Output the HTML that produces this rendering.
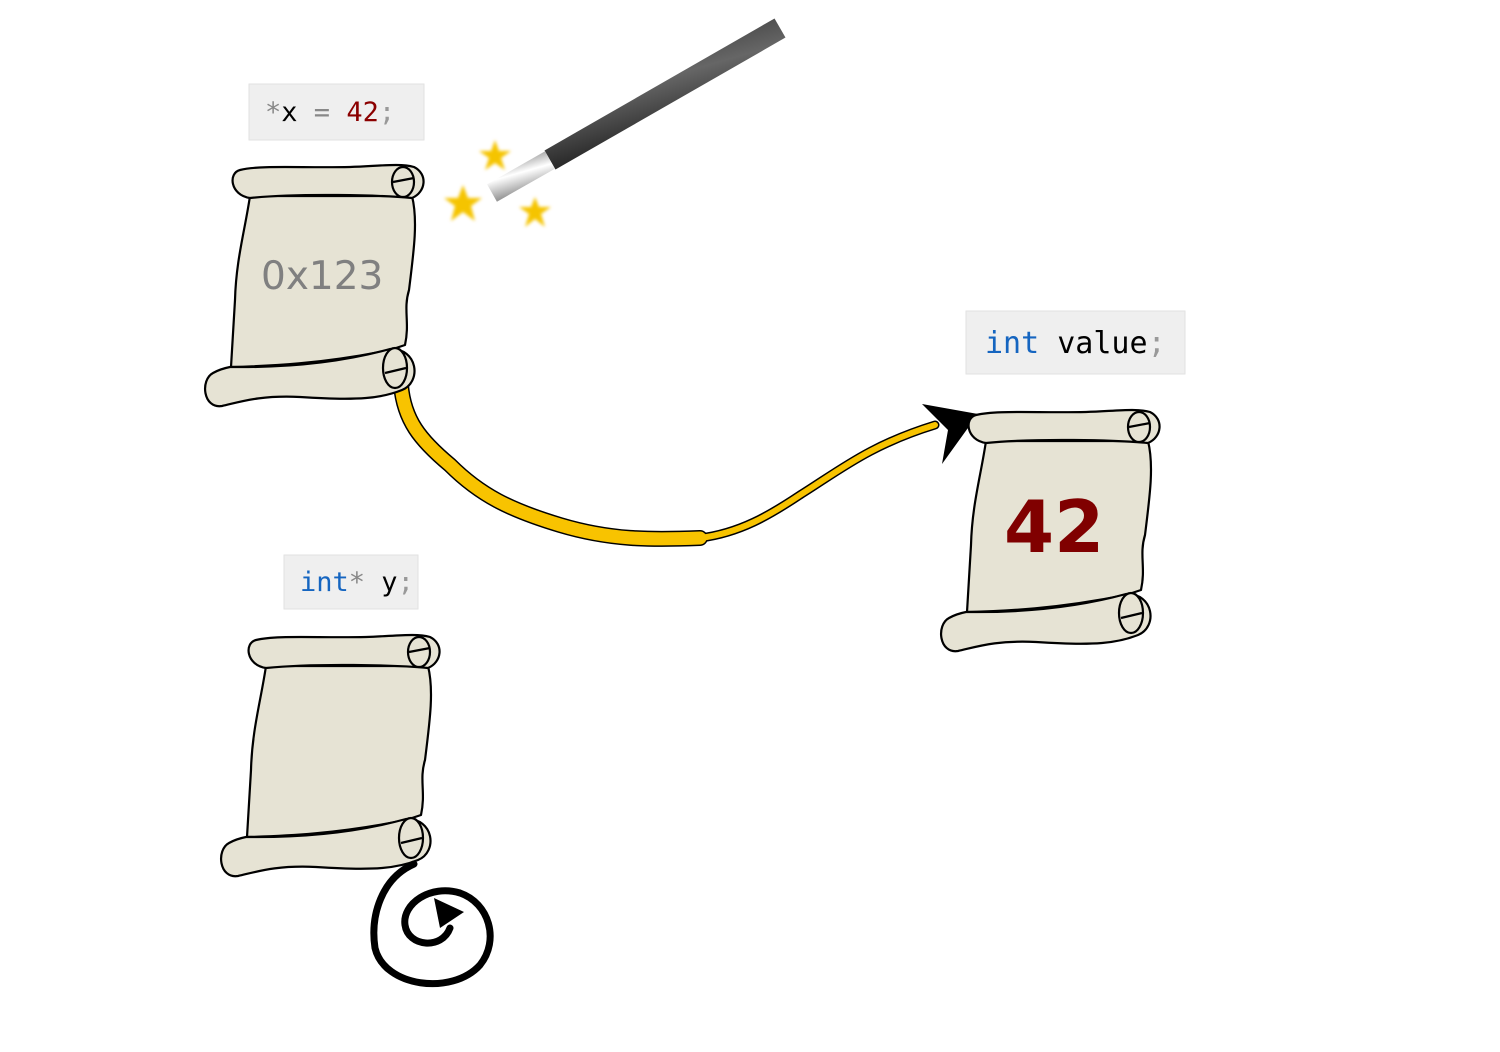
<!DOCTYPE html>
<html><head><meta charset="utf-8"><style>
html,body{margin:0;padding:0;background:#fff;width:1500px;height:1052px;overflow:hidden}
svg{display:block}
.code{font-family:"DejaVu Sans Mono","Liberation Mono",monospace;font-size:27px}
</style></head><body>
<svg width="1500" height="1052" viewBox="0 0 1500 1052">
<defs>
<linearGradient id="wandG" x1="0" y1="0" x2="0.5" y2="1"><stop offset="0" stop-color="#222"/><stop offset="0.5" stop-color="#666"/><stop offset="1" stop-color="#111"/></linearGradient>
<linearGradient id="tipG" x1="0" y1="0" x2="0.5" y2="1"><stop offset="0" stop-color="#888"/><stop offset="0.5" stop-color="#fff"/><stop offset="1" stop-color="#999"/></linearGradient>
<filter id="blur"><feGaussianBlur stdDeviation="1.5"/></filter>
<g id="scroll" fill="#e6e3d4" stroke="#000" stroke-width="2.2" stroke-linejoin="round">
<path d="M250,196 C245,230 236,260 235,300 L231,367 C270,366 320,364 390,350 L405,345 C410,322 403,310 409,290 C414,250 418,220 412,196 Z"/>
<path d="M240,170 C260,165 300,168 350,167 C380,166 400,163 414,167 C428,174 426,192 412,198 C380,195 300,193 250,198 C230,195 228,173 240,170 Z"/>
<ellipse cx="403" cy="182" rx="11" ry="15"/>
<path d="M393,182 L414,178" fill="none"/>
<path d="M230,367 C300,368 350,360 390,349 C418,348 422,382 402,390 C382,398 360,401 300,397 C260,395 240,402 222,406 C203,409 200,380 213,373 C220,369 230,367 230,367 Z"/>
<ellipse cx="395" cy="368" rx="12" ry="20"/>
<path d="M385,373 L406,368" fill="none"/>
</g>
</defs>

<g>
<rect x="249" y="84" width="175" height="56" fill="#efefef" stroke="#e2e2e2"/>
<text x="265" y="121" class="code"><tspan fill="#888">*</tspan><tspan fill="#000">x</tspan><tspan fill="#888"> = </tspan><tspan fill="#8b0000">42</tspan><tspan fill="#999">;</tspan></text>
</g>

<g>
<line x1="550" y1="160" x2="780" y2="28" stroke="url(#wandG)" stroke-width="22"/>
<line x1="492" y1="193" x2="550" y2="160" stroke="url(#tipG)" stroke-width="20"/>
</g>
<g fill="#f5c400" filter="url(#blur)">
<polygon points="495,140 499,151 511,151 501,158 505,170 495,163 485,170 489,158 479,151 491,151"/>
<polygon points="463,185 468,198 482,198 471,206 475,221 463,212 451,221 455,206 444,198 458,198"/>
<polygon points="535,197 539,207 551,207 541,214 545,227 535,219 525,227 529,214 519,207 531,207"/>
</g>

<g fill="none" stroke-linecap="round">
<path d="M401,385 C404,420 420,440 450,465 C480,495 510,510 560,525 C610,540 650,540 700,538" stroke="#000" stroke-width="16"/>
<path d="M700,538 C740,533 770,515 800,495 C840,470 870,445 935,425" stroke="#000" stroke-width="9"/>
<path d="M401,385 C404,420 420,440 450,465 C480,495 510,510 560,525 C610,540 650,540 700,538" stroke="#f8c300" stroke-width="13"/>
<path d="M700,538 C740,533 770,515 800,495 C840,470 870,445 935,425" stroke="#f8c300" stroke-width="6"/>
</g>
<polygon points="922,404 978,414 942,464 948,430" fill="#000"/>

<use href="#scroll"/>
<text x="261" y="289" font-family="'DejaVu Sans','Liberation Sans',sans-serif" font-size="39" fill="#808080">0x123</text>

<g>
<rect x="966" y="311" width="219" height="63" fill="#efefef" stroke="#e2e2e2"/>
<text x="985" y="353" class="code" style="font-size:30px"><tspan fill="#1565c0">int</tspan><tspan fill="#000"> value</tspan><tspan fill="#999">;</tspan></text>
</g>
<use href="#scroll" transform="translate(736,245)"/>
<text x="1004" y="552" font-family="'DejaVu Sans','Liberation Sans',sans-serif" font-weight="bold" font-size="72" fill="#800000">42</text>

<g>
<rect x="284" y="555" width="134" height="54" fill="#efefef" stroke="#e2e2e2"/>
<text x="300" y="591" class="code"><tspan fill="#1565c0">int</tspan><tspan fill="#888">*</tspan><tspan fill="#000"> y</tspan><tspan fill="#999">;</tspan></text>
</g>
<use href="#scroll" transform="translate(16,470)"/>
<path d="M414,864 C382,878 370,915 375,948 C384,987 452,996 480,965 C500,940 489,903 460,893 C430,884 402,904 405,925 C408,947 442,950 450,928" fill="none" stroke="#000" stroke-width="7" stroke-linecap="round"/>
<polygon points="434,898 464,912 440,928" fill="#000"/>
</svg>
</body></html>
